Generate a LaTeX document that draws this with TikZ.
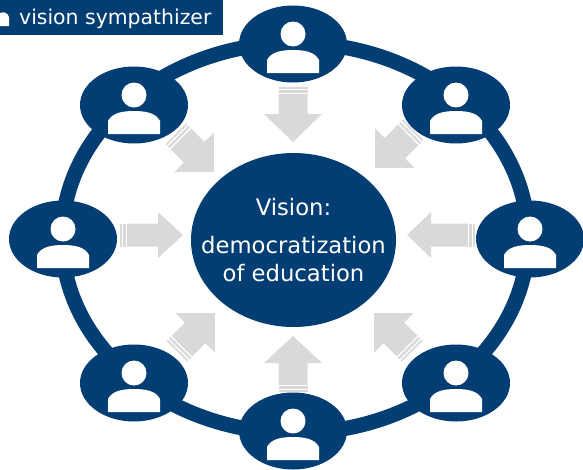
\documentclass[tikz,border=0pt]{standalone}
\usepackage{fontspec}
\setmainfont{DejaVu Sans}
\usetikzlibrary{shapes.geometric}

\definecolor{navy}{RGB}{2,62,115}
\definecolor{arrowgray}{RGB}{217,217,217}

\tikzset{
    member/.style={ellipse, fill=navy, minimum width=108pt, minimum height=77pt, inner sep=0pt},
    visionbox/.style={ellipse, fill=navy, minimum width=205pt, minimum height=174pt, inner sep=0pt},
    visiontext/.style={text=white, align=center, inner sep=0pt, font=\fontsize{22.7}{28}\selectfont},
    tagbox/.style={fill=navy, minimum width=223pt, minimum height=35pt, inner sep=0pt, anchor=north west},
    person/.pic={
        \fill[white] (0,-10) circle (12.5);
        \fill[white] (-26,29) -- (-26,16) .. controls (-22,8) and (-12,6) .. (0,6)
            .. controls (12,6) and (22,8) .. (26,16) -- (26,29) -- cycle;
    }
}

\begin{document}
\begin{tikzpicture}[x=1pt, y=-1pt]

    \useasboundingbox (0,0) rectangle (583,469);
    \clip (0,0) rectangle (583,469);

    % --- Ring ---
    \draw[navy, line width=15pt] (295,238) ellipse (233 and 195);

    % --- Arrows towards the vision (tail x/y, angle, length, head, widths) ---
    \foreach \tx/\ty/\ang/\len/\hl/\hw/\sw in {293/87/-90/55/28/29/14.5, 293/392/90/56/27/29/14.5,
            120/235/0/63/25/23/11.5, 475/235/180/68/24/23/11.5,
            175.8/133.8/-45/54/28/28/14.5, 413.2/129.8/-135/54/28/28/14.5,
            176.8/351.2/45/54/28/28/14.5, 412.2/351.2/135/54/28/28/14.5} {
        \begin{scope}[shift={(\tx,\ty)}, rotate=\ang]
            \fill[arrowgray] (0,-\sw) rectangle (1.8,\sw);
            \fill[arrowgray] (3.4,-\sw) rectangle (5.6,\sw);
            \fill[arrowgray] (7.2,-\sw) -- (\len-\hl,-\sw) -- (\len-\hl,-\hw) -- (\len,0)
                -- (\len-\hl,\hw) -- (\len-\hl,\sw) -- (7.2,\sw) -- cycle;
        \end{scope}
    }

    % --- Vision sympathizers ---
    \foreach \name/\px/\py in {top/293/44, topright/456/105, right/530/239, botright/456/383,
            bottom/293/431, botleft/134/383, left/63/239, topleft/134/105} {
        \node[member] (\name) at (\px,\py) {};
        \pic at (\name) {person};
    }

    % --- Vision ---
    \node[visionbox] (vision) at (293.5,240) {};
    \node[visiontext] (visionlabel) at (vision.center) {Vision:\\[10pt]democratization\\of education};

    % --- Tag ---
    \node[tagbox] (tag) at (0,0) {};
    \fill[white] (0,26) -- (0,13) .. controls (4,11.5) and (7.5,12.5) .. (9,17) -- (9,26) -- cycle;
    \node[anchor=base west, inner sep=0pt, text=white, font=\fontsize{20.4}{24}\selectfont]
        (tagtext) at (19,24) {vision sympathizer};

\end{tikzpicture}
\end{document}
